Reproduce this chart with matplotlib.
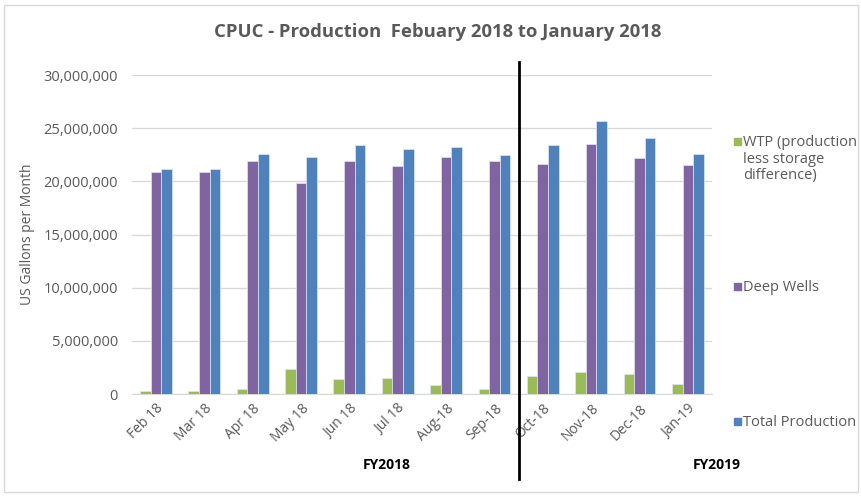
import matplotlib.pyplot as plt
import numpy as np
from matplotlib.patches import Rectangle
from matplotlib.ticker import FuncFormatter

months = ['Feb 18', 'Mar 18', 'Apr 18', 'May 18', 'Jun 18', 'Jul 18',
          'Aug-18', 'Sep-18', 'Oct-18', 'Nov-18', 'Dec-18', 'Jan-19']

# gallons per month
wtp = [280000, 280000, 500000, 2400000, 1400000, 1530000,
       850000, 500000, 1750000, 2070000, 1880000, 970000]
deep_wells = [20850000, 20850000, 21900000, 19850000, 21900000, 21450000,
              22300000, 21900000, 21600000, 23550000, 22200000, 21500000]
total = [21200000, 21200000, 22550000, 22300000, 23450000, 23000000,
         23200000, 22450000, 23400000, 25700000, 24100000, 22550000]

series_names = ['WTP (production\nless storage\ndifference)', 'Deep Wells', 'Total Production']
colors = ['#9BBB59', '#8064A2', '#4F81BD']

plt.rcParams['font.family'] = ['Open Sans', 'DejaVu Sans']
grey = '#595959'

fig = plt.figure(figsize=(8.62, 4.97), dpi=100)
ax = fig.add_axes([0.153, 0.207, 0.673, 0.642])

x = np.arange(len(months))
w = 0.22
for i, vals in enumerate([wtp, deep_wells, total]):
    ax.bar(x + (i - 1) * w, vals, w, color=colors[i], edgecolor='#dfe6f0',
           linewidth=0.5, zorder=3)

ax.set_xlim(-0.5, len(months) - 0.5)
ax.set_ylim(0, 30000000)
ax.set_yticks(np.arange(0, 30000001, 5000000))
ax.yaxis.set_major_formatter(FuncFormatter(lambda v, p: '{:,.0f}'.format(v)))
ax.grid(axis='y', color='#d9d9d9', linewidth=1, zorder=0)
for s in ['top', 'right', 'left']:
    ax.spines[s].set_visible(False)
ax.spines['bottom'].set_color('#d9d9d9')
ax.tick_params(length=0, colors=grey, labelsize=10)
ax.tick_params(axis='y', pad=10, labelsize=10.5)
ax.tick_params(axis='x', pad=5)
ax.set_xticks(x)
ax.set_xticklabels(months, rotation=45, ha='right', rotation_mode='anchor')
ax.set_ylabel('US Gallons per Month', color=grey, fontsize=10, labelpad=6)

# fiscal year divider
ax.axvline(7.5, ymin=-0.265, ymax=1.04, color='black', linewidth=2, clip_on=False, zorder=5)

fig.text(0.508, 0.935, 'CPUC - Production  Febuary 2018 to January 2018',
         ha='center', va='center', fontsize=13.3, fontweight='bold', color=grey)
fig.text(0.449, 0.065, 'FY2018', ha='center', va='center', fontsize=10, fontweight='bold')
fig.text(0.832, 0.065, 'FY2019', ha='center', va='center', fontsize=10, fontweight='bold')

# legend entries spread down the right side
leg_y = [0.715, 0.423, 0.151]
for name, c, yy in zip(series_names, colors, leg_y):
    fig.patches.append(Rectangle((0.852, yy - 0.006), 0.008, 0.014, color=c,
                                 transform=fig.transFigure))
    fig.text(0.862, yy + 0.013, name, ha='left', va='top', fontsize=10.5,
             color=grey, linespacing=1.15)

fig.patches.append(Rectangle((0.005, 0.01), 0.99, 0.98, fill=False,
                             edgecolor='#d9d9d9', linewidth=1,
                             transform=fig.transFigure))

fig.savefig('out.png', dpi=100)
